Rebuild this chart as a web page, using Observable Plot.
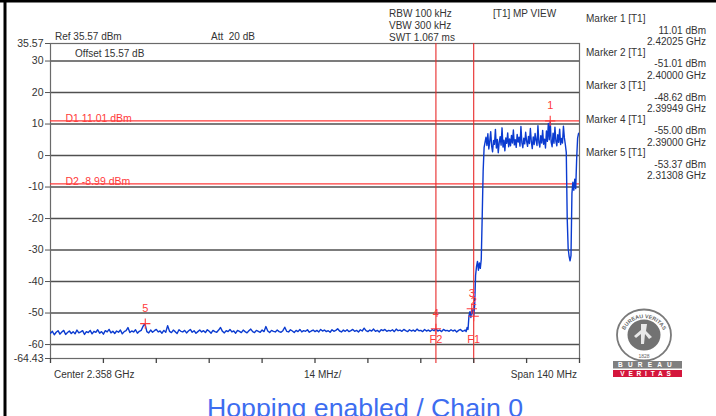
<!DOCTYPE html>
<html>
<head>
<meta charset="utf-8">
<script src="https://cdn.jsdelivr.net/npm/d3@7"></script>
<script src="https://cdn.jsdelivr.net/npm/@observablehq/plot@0.6"></script>
<style>
  html, body { margin: 0; padding: 0; background: #fff; }
  #chart { position: relative; width: 716px; height: 416px; overflow: hidden; }
  #chart svg { font-family: "Liberation Sans", Arial, sans-serif; }
</style>
</head>
<body>
<div id="chart"></div>
<script>
// Analyzer sweep: center 2.358 GHz, span 140 MHz, ref 35.57 dBm
const startGHz = 2.288;
const stopGHz = 2.428;
const refLevel = 35.57;
const bottomLevel = -64.43;

const yTicks = [35.57, 30, 20, 10, 0, -10, -20, -30, -40, -50, -60, -64.43];
const yTickLabels = ["35.57", "30", "20", "10", "0", "-10", "-20", "-30", "-40", "-50", "-60", "-64.43"];
const gridLevels = [30, 20, 10, 0, -10, -20, -30, -40, -50, -60];
const xDivisions = [2.288, 2.302, 2.316, 2.330, 2.344, 2.358, 2.372, 2.386, 2.400, 2.414, 2.428];

// Trace, noise floor: 2.288 GHz onward, 0.5 MHz per point (dBm)
const noiseStart = 2.288;
const noiseStep = 0.0005;
const noiseFloor = [
  -56.4,-55.8,-56.9,-56.1,-55.6,-56.7,-56.0,-55.5,-56.8,-56.2,-55.7,-56.5,-55.9,-56.6,-55.4,-56.3,-56.0,-55.6,-56.8,-55.9,
  -56.2,-55.5,-56.6,-55.8,-56.1,-55.3,-56.4,-55.9,-56.7,-55.6,-56.0,-55.2,-56.3,-55.8,-56.5,-55.7,-56.1,-55.4,-56.6,-55.9,
  -55.6,-54.6,-56.2,-55.7,-56.0,-55.3,-56.4,-55.8,-55.5,-54.2,-53.37,-55.9,-56.3,-55.4,-56.1,-55.6,-55.2,-56.0,-55.7,-56.4,
  -55.5,-56.1,-54.0,-55.8,-56.2,-55.4,-55.9,-56.5,-55.3,-55.8,-56.0,-55.5,-56.3,-55.7,-55.2,-56.1,-55.6,-56.4,-55.9,-55.4,
  -56.0,-55.6,-56.2,-55.3,-55.8,-56.4,-55.5,-55.9,-56.1,-55.4,-54.6,-55.8,-56.3,-55.6,-55.9,-55.2,-56.0,-55.7,-56.4,-55.5,
  -55.8,-56.2,-55.4,-55.9,-56.3,-55.6,-55.1,-55.9,-56.2,-55.5,-55.8,-56.1,-55.4,-55.9,-54.3,-55.7,-56.2,-55.5,-55.8,-56.0,
  -55.4,-55.9,-56.1,-55.6,-54.5,-55.8,-56.0,-55.3,-55.7,-56.2,-55.5,-55.9,-55.2,-56.0,-55.6,-55.8,-55.3,-56.1,-55.7,-55.4,
  -55.9,-55.5,-56.0,-55.2,-55.7,-55.4,-55.9,-55.6,-56.1,-55.3,-55.8,-55.5,-55.0,-55.7,-56.0,-55.4,-55.8,-55.3,-55.9,-55.6,
  -55.2,-55.8,-55.5,-56.0,-55.3,-55.7,-54.8,-55.6,-55.9,-55.4,-55.7,-55.1,-55.8,-55.5,-56.0,-55.3,-55.6,-55.2,-55.8,-55.5,
  -55.7,-55.3,-55.9,-55.1,-55.6,-55.4,-55.8,-55.2,-55.6,-55.9,-55.3,-55.7,-55.4,-55.8,-55.1,-55.6,-55.5,-55.9,-55.2,-55.7,
  -55.4,-55.8,-55.3,-55.6,-55.00,-55.7,-55.4,-55.9,-55.2,-55.6,-55.5,-55.8,-55.3,-55.7,-55.4,-56.0,-55.5,-55.2,-55.8,-55.6
];

// Band edge and in-band part: 0.25 MHz per point (dBm)
const fineStep = 0.00025;
const risingStart = 2.39775;
const risingEdge = [
  -55.4,-55.9,-54.6,-55.2,-50.8,-49.6,-51.4,-48.62,-49.8,-51.01,-47.5,
  -38.0,-35.2,-33.6,-36.4,-34.1,-35.8,-33.0,-19.5,-5.0,2.5,4.2
];
const plateauStart = 2.40325;
const plateau = [
  5.8,3.2,6.9,2.1,4.5,7.6,3.0,1.2,
  4.8,3.6,8.3,2.4,5.1,0.9,4.2,6.0,3.3,8.8,2.7,4.9,1.5,5.6,3.9,7.2,2.8,5.3,3.1,6.4,
  4.0,8.1,3.4,5.0,2.6,6.7,4.3,5.8,3.0,9.2,4.1,2.5,5.5,3.7,7.4,4.6,2.9,6.1,3.8,8.6,
  4.4,2.2,5.9,3.5,7.0,4.8,3.2,9.5,4.2,2.7,6.3,4.0,8.0,3.6,5.2,2.4,7.8,4.5,10.2,5.0,
  11.01,4.3,2.8,7.1,3.9,9.0,4.6,3.1,6.6,4.2,8.4,3.5,5.4,4.0,9.3,5.6
];
const fallingStart = 2.42425;
const fallingEdge = [3.5,1.0,-20.0,-29.5,-32.0,-33.4,-31.8,-12.0,-8.5,-11.0,-7.5,-10.5,-1.0,5.5,7.0,7.2];

// Markers
const markerIds = [1, 2, 3, 4, 5];
const markerFreqs = [2.42025, 2.40000, 2.39949, 2.39000, 2.31308];
const markerLevels = [11.01, -51.01, -48.62, -55.00, -53.37];

// Display lines and frequency lines
const displayNames = ["D1", "D2"];
const displayLevels = [11.01, -8.99];
const freqLineNames = ["F1", "F2"];
const freqLineValues = [2.400, 2.390];

const segment = (start, step, values) => values.map((v, i) => ({f: start + i * step, dBm: v}));
const trace = [
  ...segment(noiseStart, noiseStep, noiseFloor),
  ...segment(risingStart, fineStep, risingEdge),
  ...segment(plateauStart, fineStep, plateau),
  ...segment(fallingStart, fineStep, fallingEdge)
];
const markers = markerIds.map((n, i) => ({n, f: markerFreqs[i], level: markerLevels[i]}));
const displayLines = displayNames.map((name, i) => ({name, level: displayLevels[i]}));
const freqLines = freqLineNames.map((name, i) => ({name, f: freqLineValues[i]}));

const red = "#ff3b3b";
const textColor = "#333";

const plot = Plot.plot({
  width: 716,
  height: 416,
  marginLeft: 50,
  marginRight: 137,
  marginTop: 43,
  marginBottom: 58,
  style: {fontFamily: "'Liberation Sans', Arial, sans-serif", fontSize: "10px", color: textColor, background: "#fff"},
  x: {domain: [startGHz, stopGHz]},
  y: {domain: [bottomLevel, refLevel]},
  marks: [
    Plot.ruleY(gridLevels, {stroke: "#505050", strokeWidth: 1.4}),
    Plot.frame({stroke: "#6a6a6a", strokeWidth: 1.2}),
    Plot.ruleY(displayLines, {y: "level", stroke: red, strokeWidth: 1.1}),
    Plot.text(displayLines, {
      y: "level", frameAnchor: "left", dx: 15, dy: 1, lineAnchor: "bottom", textAnchor: "start",
      text: d => `${d.name} ${d.level.toFixed(2)} dBm`, fill: red, fontSize: 10.5
    }),
    Plot.ruleX(freqLines, {x: "f", stroke: "#e82a2a", strokeWidth: 1.1, insetBottom: -5}),
    Plot.text(freqLines, {x: "f", frameAnchor: "bottom", dy: -16, text: "name", fill: red, fontSize: 11}),
    Plot.line(trace, {x: "f", y: "dBm", stroke: "#0b3bd0", strokeWidth: 1.4, clip: true}),
    Plot.dot(markers, {x: "f", y: "level", symbol: "plus", r: 3.4, stroke: red, strokeWidth: 1.1}),
    Plot.text(markers, {x: "f", y: "level", dy: -15, text: d => String(d.n), fill: red, fontSize: 11}),
    Plot.axisY(yTicks, {
      label: null, tickSize: 5, tickPadding: 2, fontSize: 10.5, fontWeight: 500,
      tickFormat: (d, i) => yTickLabels[i], stroke: "#555"
    }),
    Plot.axisX(xDivisions, {label: null, tickSize: 5, tickFormat: () => "", stroke: "#444", strokeWidth: 1.3})
  ]
});

document.getElementById("chart").appendChild(plot);

const svg = d3.select(plot);
const font = "'Liberation Sans', Arial, sans-serif";

// image border
svg.append("rect").attr("x", 0).attr("y", 0).attr("width", 716).attr("height", 2.5).attr("fill", "#000");
svg.append("rect").attr("x", 3.5).attr("y", 0).attr("width", 3).attr("height", 416).attr("fill", "#000");

// instrument settings header
const header = [
  {t: "Ref 35.57 dBm", x: 55, y: 40},
  {t: "Att  20 dB", x: 211, y: 40},
  {t: "Offset 15.57 dB", x: 75, y: 57},
  {t: "RBW 100 kHz", x: 389, y: 17},
  {t: "VBW 300 kHz", x: 389, y: 29},
  {t: "SWT 1.067 ms", x: 389, y: 41},
  {t: "[T1] MP VIEW", x: 493, y: 17}
];
svg.append("g").attr("text-anchor", "start").selectAll("text").data(header).join("text")
  .attr("x", d => d.x).attr("y", d => d.y)
  .attr("font-family", font).attr("font-size", 10).attr("fill", textColor)
  .style("white-space", "pre")
  .text(d => d.t);

// marker table
const table = svg.append("g").attr("font-family", font).attr("font-size", 10).attr("fill", textColor).attr("text-anchor", "start");
markers.forEach((m, i) => {
  const base = 22 + i * 33.6;
  table.append("text").attr("x", 586).attr("y", base).text(`Marker ${m.n} [T1]`);
  table.append("text").attr("x", 706).attr("y", base + 11.5).attr("text-anchor", "end").text(`${m.level.toFixed(2)} dBm`);
  table.append("text").attr("x", 706).attr("y", base + 23).attr("text-anchor", "end").text(`${m.f.toFixed(5)} GHz`);
});

// span annotations under the grid
const foot = svg.append("g").attr("font-family", font).attr("font-size", 10).attr("fill", textColor).attr("text-anchor", "start");
foot.append("text").attr("x", 54).attr("y", 378).text("Center 2.358 GHz");
foot.append("text").attr("x", 304).attr("y", 378).text("14 MHz/");
foot.append("text").attr("x", 577).attr("y", 378).attr("text-anchor", "end").text("Span 140 MHz");

// laboratory badge
const logo = svg.append("g").attr("transform", "translate(644,335)");
logo.append("ellipse").attr("rx", 27).attr("ry", 25.5).attr("fill", "#fff").attr("stroke", "#7a7a7a").attr("stroke-width", 1.8);
logo.append("path").attr("id", "badgeArc").attr("d", "M -21,4 A 21 21 0 0 1 21,4").attr("fill", "none");
logo.append("text").attr("font-family", font).attr("font-size", 5.4).attr("fill", "#666").attr("font-weight", "bold")
  .append("textPath").attr("href", "#badgeArc").attr("startOffset", "50%").attr("text-anchor", "middle").text("BUREAU VERITAS");
logo.append("ellipse").attr("rx", 16.5).attr("ry", 15.5).attr("fill", "#727272");
logo.append("path").attr("d", "M -3,-11 L 3,-11 L 2,-4 L 8,2 L 5,4 L 1,-1 L 0,9 L -3,9 L -3,-1 L -8,3 L -10,1 L -3,-5 Z").attr("fill", "#e8e8e8");
logo.append("text").attr("y", 22.5).attr("text-anchor", "middle").attr("font-family", font).attr("font-size", 5).attr("fill", "#666").text("1828");
svg.append("rect").attr("x", 613).attr("y", 361).attr("width", 69).attr("height", 7.5).attr("fill", "#7f7f7f");
svg.append("rect").attr("x", 613).attr("y", 370).attr("width", 69).attr("height", 7).attr("fill", "#d4163c");
svg.append("text").attr("x", 647.5).attr("y", 367.3).attr("text-anchor", "middle").attr("font-family", font)
  .attr("font-size", 6.5).attr("font-weight", "bold").attr("fill", "#fff").attr("letter-spacing", 5.2).text("BUREAU");
svg.append("text").attr("x", 647.5).attr("y", 376).attr("text-anchor", "middle").attr("font-family", font)
  .attr("font-size", 6.5).attr("font-weight", "bold").attr("fill", "#fff").attr("letter-spacing", 3.8).text("VERITAS");

// test condition caption
svg.append("text").attr("x", 365).attr("y", 417).attr("text-anchor", "middle")
  .attr("font-family", font).attr("font-size", 26.7).attr("fill", "#3d6df0")
  .text("Hopping enabled / Chain 0");
</script>
</body>
</html>
